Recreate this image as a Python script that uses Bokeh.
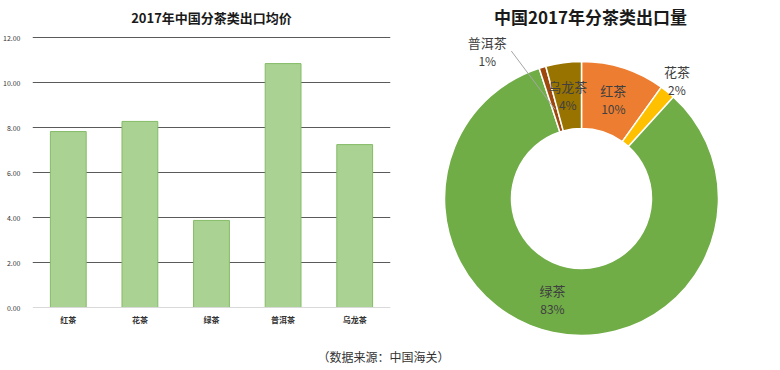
import math
from bokeh.plotting import figure
from bokeh.models import (Range1d, FactorRange, NumeralTickFormatter, FixedTicker,
                          ColumnDataSource)
from bokeh.layouts import row, column
from bokeh.core.properties import value
from bokeh.embed import file_html
from bokeh.resources import INLINE

# ---------------- data ----------------
bar_title = "2017年中国分茶类出口均价"
bar_categories = ["红茶", "花茶", "绿茶", "普洱茶", "乌龙茶"]
bar_values = [7.82, 8.27, 3.87, 10.84, 7.24]
bar_ticks = [0, 2, 4, 6, 8, 10, 12]

pie_title = "中国2017年分茶类出口量"
pie_categories = ["红茶", "花茶", "绿茶", "普洱茶", "乌龙茶"]
pie_shares = [9.9, 1.8, 83.3, 0.8, 4.2]
pie_colors = ["#ed7d31", "#ffc000", "#70ad47", "#9e480e", "#997300"]

footer_text = "（数据来源：中国海关）"

FONT = "Noto Sans CJK SC"

# ---------------- layout constants (pixels) ----------------
ROW_H = 348
TOP = 30            # frame top (below titles)
BOTTOM = 12         # space under the frames
FRAME_H = ROW_H - TOP - BOTTOM
AX_TOP_PX, AX_ZERO_PX = 37, 307     # where 12 and 0 of the value axis sit
px_per_unit = (AX_ZERO_PX - AX_TOP_PX) / bar_ticks[-1]
frame_bottom_px = TOP + FRAME_H

# ---------------- bar chart ----------------
y_hi = bar_ticks[-1] + (AX_TOP_PX - TOP) / px_per_unit
y_lo = -(frame_bottom_px - AX_ZERO_PX) / px_per_unit
bar = figure(width=400, height=ROW_H, x_range=FactorRange(*bar_categories),
             y_range=Range1d(y_lo, y_hi), output_backend="svg", toolbar_location=None,
             min_border_left=25, min_border_right=10, min_border_bottom=BOTTOM,
             min_border_top=TOP)
bar.title.text = bar_title
bar.title.align = "center"
bar.title.offset = -16
bar.title.text_font = FONT
bar.title.text_font_size = "13px"
bar.title.text_font_style = "bold"
bar.title.text_color = "#1a1a1a"
bar.title.standoff = 7

bar.vbar(x=bar_categories, top=bar_values, bottom=0, width=0.5, fill_color="#aad293",
         line_color="#84bb66", line_width=1)

bar.outline_line_color = None
bar.xgrid.grid_line_color = None
bar.ygrid.ticker = FixedTicker(ticks=bar_ticks[1:])
bar.ygrid.grid_line_color = "#5a5a5a"
bar.ygrid.grid_line_width = 1.2

bar.yaxis.ticker = FixedTicker(ticks=bar_ticks)
bar.yaxis.formatter = NumeralTickFormatter(format="0.00")
bar.yaxis.axis_line_color = None
bar.yaxis.major_tick_line_color = None
bar.yaxis.minor_tick_line_color = None
bar.yaxis.major_label_text_font = FONT
bar.yaxis.major_label_text_font_size = "7px"
bar.yaxis.major_label_text_color = "#333333"
bar.yaxis.major_label_standoff = 6

bar.xaxis.fixed_location = 0
bar.xaxis.axis_line_color = "#d9d9d9"
bar.xaxis.axis_line_width = 1.2
bar.xaxis.major_tick_line_color = None
bar.xaxis.minor_tick_line_color = None
bar.xaxis.major_label_text_font = FONT
bar.xaxis.major_label_text_font_size = "8px"
bar.xaxis.major_label_text_font_style = "bold"
bar.xaxis.major_label_text_color = "#333333"
bar.xaxis.major_label_standoff = 0

# ---------------- donut chart ----------------
W2 = 380
CX, CY = 181, 198          # donut centre, canvas pixels from left / top
cy_frame = CY - TOP
donut = figure(width=W2, height=ROW_H, x_range=Range1d(-CX, W2 - CX),
               y_range=Range1d(-(FRAME_H - cy_frame), cy_frame), output_backend="svg",
               toolbar_location=None, min_border_left=0, min_border_right=0,
               min_border_top=TOP, min_border_bottom=BOTTOM)
donut.title.text = pie_title
donut.title.align = "center"
donut.title.offset = -10
donut.title.text_font = FONT
donut.title.text_font_size = "17px"
donut.title.text_font_style = "bold"
donut.title.text_color = "#1a1a1a"
donut.title.standoff = 3
donut.axis.visible = False
donut.grid.visible = False
donut.outline_line_color = None

total = sum(pie_shares)
starts, ends, mids = [], [], []
acc = 0.0
for s in pie_shares:
    f0 = acc / total
    acc += s
    f1 = acc / total
    starts.append(math.pi / 2 - 2 * math.pi * f0)
    ends.append(math.pi / 2 - 2 * math.pi * f1)
    mids.append(2 * math.pi * (f0 + f1) / 2)   # clockwise from top

R_OUT, R_IN = 137, 70
src = ColumnDataSource(dict(start=starts, end=ends, color=pie_colors,
                            name=pie_categories))
donut.annular_wedge(x=0, y=0, inner_radius=R_IN, outer_radius=R_OUT,
                    inner_radius_units="screen", outer_radius_units="screen",
                    start_angle="start", end_angle="end", direction="clock",
                    fill_color="color", line_color="white", line_width=1.5,
                    source=src)

# label placement style: (radius, angle nudge in degrees)
label_style = [(104, 0), (152, 0), (105, 4), (175, -16), (104, 0)]
lx, ly, pct = [], [], []
for m, (r, nudge), s in zip(mids, label_style, pie_shares):
    a = m + math.radians(nudge)
    lx.append(r * math.sin(a))
    ly.append(r * math.cos(a))
    pct.append(f"{round(s / total * 100)}%")

# leader line for the small 普洱茶 slice
i = pie_categories.index("普洱茶")
m = mids[i]
donut.line(x=[lx[i] + 24, 93 * math.sin(m)], y=[ly[i], 93 * math.cos(m)],
           line_color="#a6a6a6", line_width=1)

lab = ColumnDataSource(dict(x=lx, y=ly, name=pie_categories, pct=pct))
donut.text(x="x", y="y", text="name", source=lab, y_offset=-9,
           text_align="center", text_baseline="middle",
           text_font=value(FONT), text_font_size="13px", text_color="#404040")
donut.text(x="x", y="y", text="pct", source=lab, y_offset=9,
           text_align="center", text_baseline="middle",
           text_font=value(FONT), text_font_size="12px", text_color="#404040")

# ---------------- footer ----------------
FOOT_H = 370 - ROW_H
foot = figure(width=780, height=FOOT_H, x_range=Range1d(0, 780), y_range=Range1d(0, FOOT_H),
              output_backend="svg", toolbar_location=None, min_border=0)
foot.axis.visible = False
foot.grid.visible = False
foot.outline_line_color = None
foot.text(x=[383], y=[FOOT_H - 8], text=[footer_text], text_align="center",
          text_baseline="middle", text_font=value(FONT), text_font_size="12px",
          text_color="#333333")

layout = column(row(bar, donut), foot)
open("out.html", "w").write(file_html(layout, INLINE))
